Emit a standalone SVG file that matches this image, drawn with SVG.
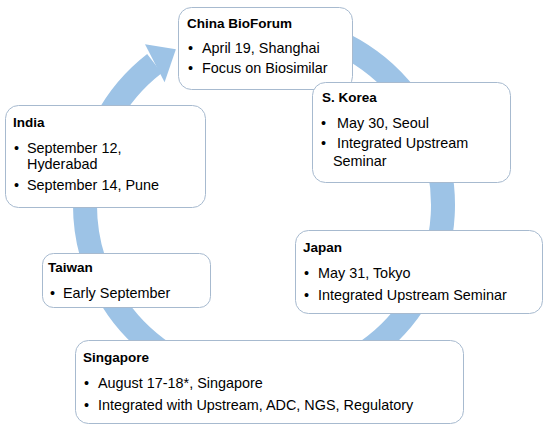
<svg xmlns="http://www.w3.org/2000/svg" width="549" height="425" viewBox="0 0 549 425">
  <style>
    .box { fill: #FFFFFF; stroke: #A7BACF; stroke-width: 1; }
    .h { font-family: "Liberation Sans", Arial, sans-serif; font-size: 13.5px; font-weight: bold; fill: #000; }
    .t { font-family: "Liberation Sans", Arial, sans-serif; font-size: 14.4px; fill: #000; }
    .ring { fill: none; stroke: #9DC3E6; stroke-width: 24; }
    .head { fill: #9DC3E6; }
  </style>
  <rect width="549" height="425" fill="#FFFFFF"/>
  <g id="connectors">
    <path class="ring" d="M 310.3 32.1 A 179 179 0 1 1 154.5 63.4"/>
    <polygon class="head" points="145,44.2 175.9,49.2 164.6,82.2"/>
  </g>
  <g id="china">
    <rect class="box" x="178.5" y="7.5" width="174" height="82" rx="13"/>
    <text class="h" x="187" y="28">China BioForum</text>
    <text class="t" x="188" y="53">•</text>
    <text class="t" x="202" y="53">April 19, Shanghai</text>
    <text class="t" x="188" y="73">•</text>
    <text class="t" x="202" y="73">Focus on Biosimilar</text>
  </g>
  <g id="korea">
    <rect class="box" x="312.5" y="82.5" width="198" height="100" rx="13"/>
    <text class="h" x="322" y="102">S. Korea</text>
    <text class="t" x="321" y="128">•</text>
    <text class="t" x="337" y="128">May 30, Seoul</text>
    <text class="t" x="321" y="148">•</text>
    <text class="t" x="337" y="148">Integrated Upstream</text>
    <text class="t" x="333" y="166">Seminar</text>
  </g>
  <g id="india">
    <rect class="box" x="5.5" y="105.5" width="200" height="102" rx="13"/>
    <text class="h" x="13" y="127">India</text>
    <text class="t" x="14" y="153">•</text>
    <text class="t" x="27" y="153">September 12,</text>
    <text class="t" x="27" y="169">Hyderabad</text>
    <text class="t" x="14" y="190">•</text>
    <text class="t" x="27" y="190">September 14, Pune</text>
  </g>
  <g id="japan">
    <rect class="box" x="295.5" y="230.5" width="247" height="83" rx="13"/>
    <text class="h" x="303" y="252">Japan</text>
    <text class="t" x="304" y="278">•</text>
    <text class="t" x="318" y="278">May 31, Tokyo</text>
    <text class="t" x="304" y="300">•</text>
    <text class="t" x="318" y="300">Integrated Upstream Seminar</text>
  </g>
  <g id="taiwan">
    <rect class="box" x="42.5" y="253.5" width="168" height="54" rx="11"/>
    <text class="h" x="48" y="272">Taiwan</text>
    <text class="t" x="50" y="298">•</text>
    <text class="t" x="63" y="298">Early September</text>
  </g>
  <g id="singapore">
    <rect class="box" x="75.5" y="340.5" width="388" height="83" rx="13"/>
    <text class="h" x="83" y="362">Singapore</text>
    <text class="t" x="84" y="388">•</text>
    <text class="t" x="98" y="388">August 17-18*, Singapore</text>
    <text class="t" x="84" y="410">•</text>
    <text class="t" x="98" y="410">Integrated with Upstream, ADC, NGS, Regulatory</text>
  </g>
</svg>
